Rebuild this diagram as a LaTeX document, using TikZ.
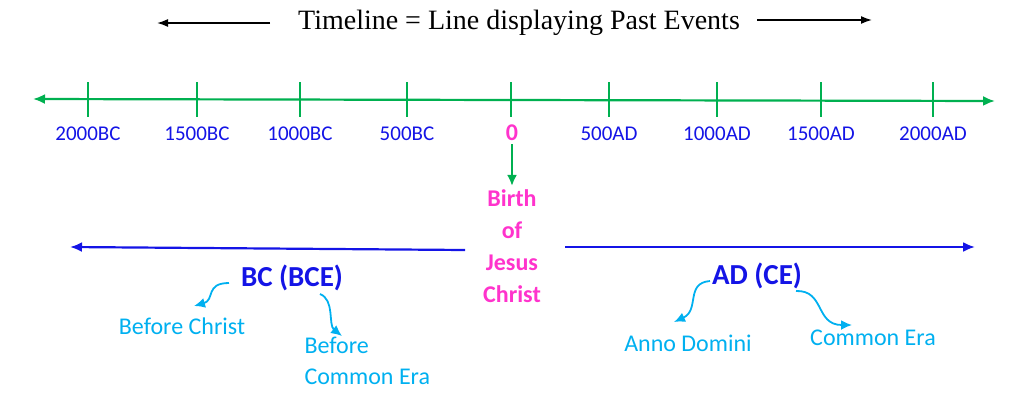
\documentclass[tikz,border=0pt]{standalone}
\usepackage{fontspec}
\setmainfont{Carlito}
\newfontfamily\tmfont{Liberation Serif}
\usetikzlibrary{arrows.meta}
\definecolor{tlgreen}{RGB}{0,176,80}
\definecolor{tlblue}{RGB}{20,20,230}
\definecolor{tlmag}{RGB}{255,51,204}
\definecolor{tlcyan}{RGB}{0,176,240}
\tikzset{
  yr/.style={text=tlblue,font=\fontsize{21}{24}\selectfont},
  era/.style={text=tlblue,font=\fontsize{29}{32}\selectfont\bfseries},
  sub/.style={text=tlcyan,font=\fontsize{24}{31}\selectfont},
  curv/.style={tlcyan,line width=1.8pt,-{Latex[length=11pt,width=10pt]}},
  tick/.style={tlgreen,line width=2.2pt}
}
\begin{document}
\begin{tikzpicture}[x=1pt,y=-1pt]
\useasboundingbox (0,0) rectangle (1024,410);
\node[font=\tmfont\fontsize{28}{31}\selectfont] (title) at (519,23) {Timeline = Line displaying Past Events};
\coordinate (tl1) at (270,23); \coordinate (tl2) at (157,23);
\coordinate (tr1) at (757,20); \coordinate (tr2) at (872,20);
\draw[line width=1.6pt,-{Latex[length=11pt,width=8pt]}] (tl1) -- (tl2);
\draw[line width=1.6pt,-{Latex[length=11pt,width=8pt]}] (tr1) -- (tr2);
\coordinate (gL) at (33,99); \coordinate (gR) at (995,101);
\draw[tlgreen,line width=2.2pt,{Latex[length=12pt,width=10pt]}-{Latex[length=12pt,width=10pt]}] (gL) -- (gR);
\foreach \x/\t in {88/2000BC,197/1500BC,300/1000BC,407/500BC,609/500AD,717/1000AD,821/1500AD,933/2000AD}{
  \draw[tick] (\x,82) -- (\x,117);
  \node[yr] (y\t) at (\x,134) {\t};
}
\draw[tick] (511,82) -- (511,117);
\node[text=tlmag,font=\fontsize{24}{26}\selectfont\bfseries] (zero) at (512,133) {0};
\node[text=tlmag,font=\fontsize{24}{32}\selectfont\bfseries,align=center] (birth) at (512,246) {Birth\\of\\Jesus\\Christ};
\draw[tlgreen,line width=2.2pt,-{Latex[length=11pt,width=10pt]}] (zero.south) -- (birth.north);
\coordinate (bl1) at (465,250); \coordinate (bl2) at (70,247);
\coordinate (br1) at (565,247); \coordinate (br2) at (975,247);
\draw[tlblue,line width=2.2pt,-{Latex[length=12pt,width=10pt]}] (bl1) -- (bl2);
\draw[tlblue,line width=2.2pt,-{Latex[length=12pt,width=10pt]}] (br1) -- (br2);
\node[era] (bc) at (292,278) {BC (BCE)};
\node[era] (ad) at (757,276) {AD (CE)};
\node[sub] (bch) at (182,326) {Before Christ};
\node[sub,align=left,anchor=north west] (bce) at (301,334) {Before\\Common Era};
\node[sub] (ando) at (688,343) {Anno Domini};
\node[sub] (ce) at (873,338) {Common Era};
\coordinate (c1) at (229,283); \coordinate (e1) at (194,306);
\coordinate (c2) at (320,294); \coordinate (e2) at (342,336);
\coordinate (c3) at (710,281); \coordinate (e3) at (674,322);
\coordinate (c4) at (796,291); \coordinate (e4) at (852,325);
\draw[curv] (c1) .. controls (205,283) and (215,300) .. (e1);
\draw[curv] (c2) .. controls (335,300) and (328,325) .. (e2);
\draw[curv] (c3) .. controls (685,283) and (700,310) .. (e3);
\draw[curv] (c4) .. controls (825,290) and (815,325) .. (e4);
\end{tikzpicture}
\end{document}
